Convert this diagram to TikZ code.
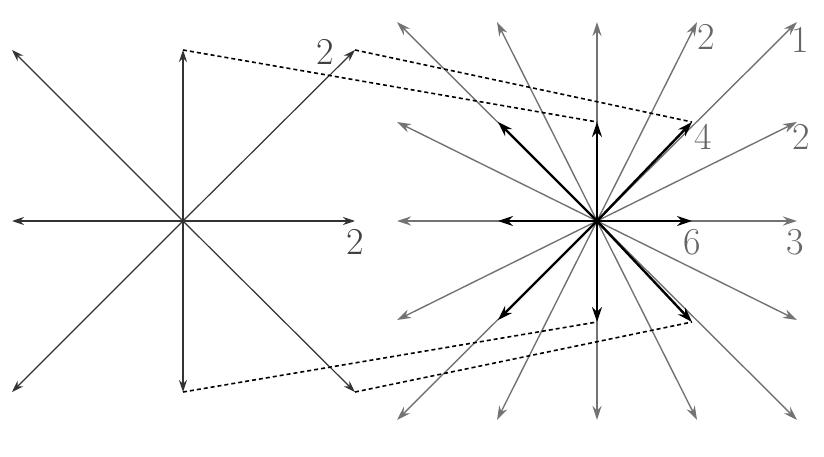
\documentclass[tikz,border=0pt]{standalone}
\usetikzlibrary{arrows.meta}
\begin{document}
\begin{tikzpicture}[x=1pt,y=-1pt,
  thinarr/.style={draw=black!80,line width=1.2pt,-{Stealth[length=12pt,width=8pt]}},
  grayarr/.style={draw=black!55,line width=1.4pt,-{Stealth[length=14pt,width=9pt]}},
  blackarr/.style={draw=black,line width=2.4pt,-{Stealth[length=15pt,width=10pt]}},
  dashline/.style={draw=black,line width=1.6pt,dash pattern=on 4pt off 3pt},
  lab/.style={font=\fontsize{38}{38}\selectfont,inner sep=0pt}]
\useasboundingbox (0,0) rectangle (824,457);
% left star
\coordinate (L) at (183,221);
\foreach \n/\x/\y in {l0/12/221,l1/355/221,l2/183/50,l3/183/392,l4/12/50,l5/355/50,l6/12/392,l7/355/392}
  {\coordinate (\n) at (\x,\y); \draw[thinarr] (L) -- (\n);}
\node[lab,text=black!75] at (325,52) {2};
\node[lab,text=black!75] at (355,242) {2};
% right star
\coordinate (R) at (597,221);
\foreach \dx in {-200,-100,0,100,200}{
  \draw[grayarr] (R) -- ++(\dx,-199);
  \draw[grayarr] (R) -- ++(\dx,199);}
\foreach \dx in {-200,200}\foreach \dy in {-99,0,99}
  \draw[grayarr] (R) -- ++(\dx,\dy);
\foreach \n/\dx/\dy in {r0/-99/0,r1/95/0,r2/0/-99,r3/0/101,r4/-99/-99,r5/95/-99,r6/-99/99,r7/95/101}
  {\path (R) ++(\dx,\dy) coordinate (\n); \draw[blackarr] (R) -- (\n);}
% dashed
\draw[dashline] (l2) -- (r2);
\draw[dashline] (l5) -- (r5);
\draw[dashline] (l3) -- (r3);
\draw[dashline] (l7) -- (r7);
% labels
\begin{scope}[lab,text=black!60]
\node at (706,37) {2};
\node at (800,40) {1};
\node at (703,137) {4};
\node at (801,137) {2};
\node at (692,242) {6};
\node at (795,242) {3};
\end{scope}
\end{tikzpicture}
\end{document}
